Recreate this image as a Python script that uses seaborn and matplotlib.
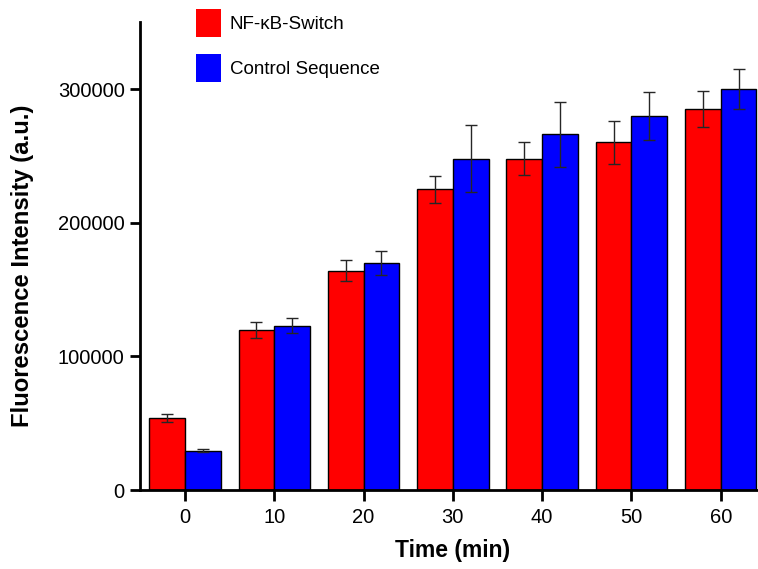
import matplotlib
matplotlib.use("Agg")
import matplotlib.pyplot as plt
from matplotlib.patches import Patch
from matplotlib import font_manager as fm
import seaborn as sns
import pandas as pd
import numpy as np

times = [0, 10, 20, 30, 40, 50, 60]
series_names = ["NF-κB-Switch", "Control Sequence"]
switch_vals = [54000, 120000, 164000, 225000, 248000, 260000, 285000]
switch_err = [3000, 6000, 8000, 10000, 12000, 16000, 13500]
control_vals = [29500, 123000, 170000, 248000, 266000, 280000, 300000]
control_err = [1000, 5500, 9000, 25000, 24000, 18000, 15000]
colors = ["#FF0000", "#0000FF"]
yticks = [0, 100000, 200000, 300000]

sns.set_theme(style="ticks")
plt.rcParams["font.family"] = ["Liberation Sans", "DejaVu Sans"]
for k in ["text.color", "axes.labelcolor", "xtick.color", "ytick.color", "axes.edgecolor"]:
    plt.rcParams[k] = "black"


def find_font(bold):
    for f in fm.fontManager.ttflist:
        if f.name == "Liberation Sans" and "Narrow" not in f.fname:
            w = f.weight if isinstance(f.weight, int) else (700 if f.weight == "bold" else 400)
            if (w >= 700) == bold and f.style == "normal":
                return f.fname
    return None


bold_path = find_font(True)


def bold_font(size):
    if bold_path:
        return fm.FontProperties(fname=bold_path, size=size)
    return fm.FontProperties(family="DejaVu Sans", weight="bold", size=size)


df = pd.DataFrame({
    "Time": times * 2,
    "Intensity": switch_vals + control_vals,
    "Group": [series_names[0]] * len(times) + [series_names[1]] * len(times),
})

fig = plt.figure(figsize=(7.58, 5.69), dpi=100)
ax = fig.add_axes([140 / 758, 1 - 490 / 569, (758 - 140) / 758, (490 - 22.2) / 569])

sns.barplot(data=df, x="Time", y="Intensity", hue="Group", hue_order=series_names,
            palette=colors, errorbar=None, width=0.8, edgecolor="black",
            linewidth=1.0, saturation=1, legend=False, ax=ax)

for cont, errs in zip(ax.containers, [switch_err, control_err]):
    xs = [p.get_x() + p.get_width() / 2 for p in cont.patches]
    ys = [p.get_height() for p in cont.patches]
    ax.errorbar(xs, ys, yerr=errs, fmt="none", ecolor="#262626", elinewidth=1.0,
                capsize=4, capthick=1.0, zorder=5)

ax.set_xlim(-0.504, 6.417)
ax.set_ylim(0, 350000)
ax.set_yticks(yticks)
ax.set_yticklabels([str(v) for v in yticks])
ax.set_xticks(range(len(times)))
ax.set_xticklabels([str(t) for t in times])

for s in ["top", "right"]:
    ax.spines[s].set_visible(False)
for s in ["left", "bottom"]:
    ax.spines[s].set_linewidth(2.0)
    ax.spines[s].set_color("black")

ax.tick_params(axis="x", length=8, width=2.0, pad=5, labelsize=14.5, colors="black")
ax.tick_params(axis="y", length=7.5, width=2.0, pad=3.5, labelsize=14.5, colors="black")

ax.set_xlabel("")
ax.set_ylabel("")
fig.text(453 / 758, 1 - 551 / 569, "Time (min)", ha="center", va="center",
         fontproperties=bold_font(16.5), color="black")
fig.text(23 / 758, 1 - 266 / 569, "Fluorescence Intensity (a.u.)", ha="center",
         va="center", rotation=90, fontproperties=bold_font(17.2), color="black")

handles = [Patch(facecolor=c, edgecolor="none") for c in colors]
fs = 13.5
fspx = fs * 100 / 72
ax.legend(handles, series_names, loc="upper left",
          bbox_to_anchor=(195.7 / 758, 1 - 9 / 569), bbox_transform=fig.transFigure,
          frameon=False, fontsize=fs, borderpad=0, borderaxespad=0,
          handlelength=25 / fspx, handleheight=28 / fspx * 28 / 22,
          labelspacing=17 / fspx, handletextpad=9 / fspx, labelcolor="black")

fig.savefig("out.png", dpi=100)
